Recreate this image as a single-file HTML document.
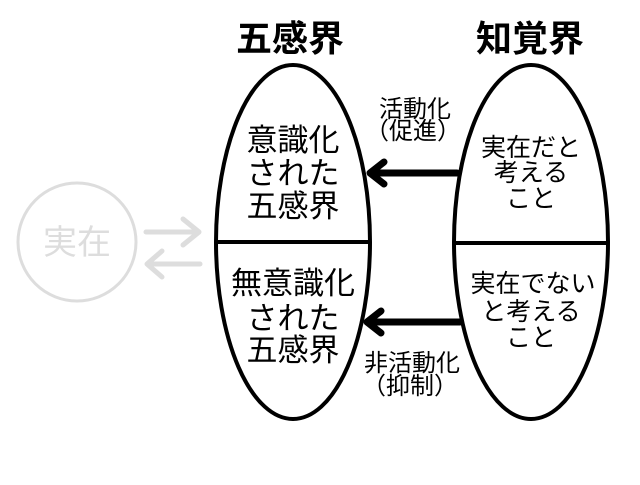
<!DOCTYPE html>
<html><head><meta charset="utf-8"><style>
body{margin:0;background:#fff}
text{font-family:"Liberation Sans","Noto Sans CJK JP",sans-serif}
</style></head><body>
<svg width="640" height="480" xmlns="http://www.w3.org/2000/svg">
<rect width="640" height="480" fill="#fff"/>
<text x="290" y="51" font-size="36" font-weight="bold" text-anchor="middle">五感界</text>
<text x="530" y="51" font-size="36" font-weight="bold" text-anchor="middle">知覚界</text>
<ellipse cx="293" cy="242" rx="77" ry="177" fill="none" stroke="#000" stroke-width="4"/>
<ellipse cx="531" cy="242" rx="77" ry="177" fill="none" stroke="#000" stroke-width="4"/>
<line x1="216" y1="242" x2="370" y2="242" stroke="#000" stroke-width="4"/>
<line x1="454" y1="243" x2="608" y2="243" stroke="#000" stroke-width="4"/>
<g font-size="31" text-anchor="middle">
<text x="293" y="151">意識化</text>
<text x="293" y="184">された</text>
<text x="293" y="217">五感界</text>
<text x="293" y="294">無意識化</text>
<text x="293" y="329">された</text>
<text x="293" y="361">五感界</text>
</g>
<g font-size="25" text-anchor="middle">
<text x="531" y="156">実在だと</text>
<text x="531" y="181">考える</text>
<text x="531" y="207">こと</text>
<text x="533" y="292">実在でない</text>
<text x="531" y="320">と考える</text>
<text x="531" y="346">こと</text>
</g>
<g font-size="24" text-anchor="middle">
<text x="415" y="117">活動化</text>
<text x="413" y="139">（促進）</text>
<text x="412" y="371">非活動化</text>
<text x="410" y="394">（抑制）</text>
</g>
<g stroke="#000" stroke-width="7" fill="none" stroke-linecap="round" stroke-linejoin="round">
<line x1="457" y1="173" x2="372" y2="173"/>
<polyline points="384,162 370,173 384,184"/>
<line x1="460" y1="322" x2="368" y2="322"/>
<polyline points="381,311 367,322 381,333"/>
</g>
<circle cx="77" cy="242" r="59" fill="none" stroke="#ddd" stroke-width="3"/>
<text x="77" y="254" font-size="34" fill="#ddd" text-anchor="middle">実在</text>
<g stroke="#ddd" stroke-width="5" fill="none" stroke-linecap="round" stroke-linejoin="round">
<line x1="146" y1="232" x2="198" y2="232"/>
<polyline points="183,219 199,232 183,245"/>
<line x1="200" y1="264" x2="148" y2="264"/>
<polyline points="162,251 147,264 162,277"/>
</g>
</svg>
</body></html>
